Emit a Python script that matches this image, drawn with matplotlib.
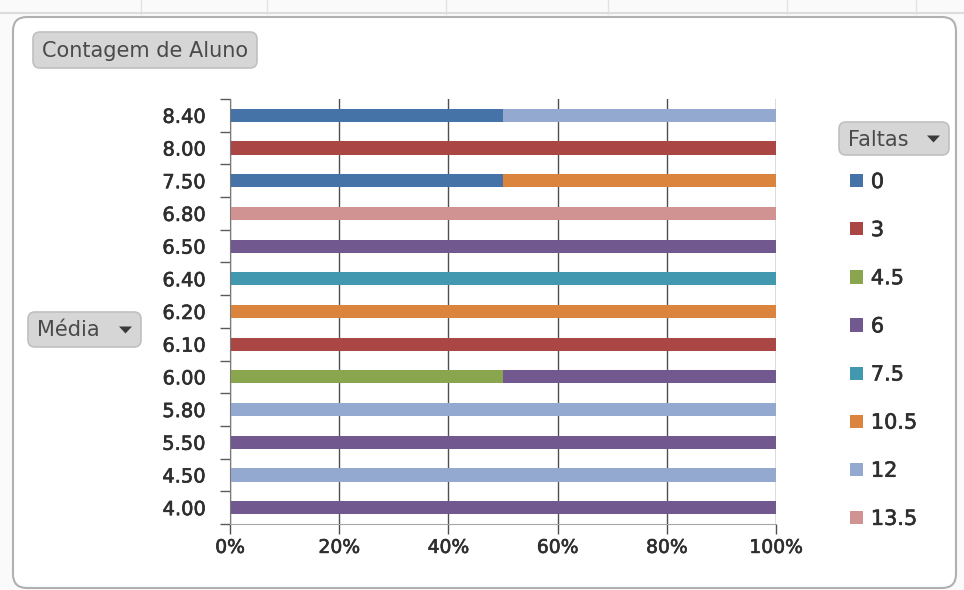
import numpy as np
import matplotlib.pyplot as plt
import matplotlib.patheffects as pe
from matplotlib.patches import FancyBboxPatch, Polygon, Patch

# Média (eixo Y), de baixo para cima
medias = ['4.00', '4.50', '5.50', '5.80', '6.00', '6.10', '6.20',
          '6.40', '6.50', '6.80', '7.50', '8.00', '8.40']

# Faltas (série) e cores de cada uma
faltas = ['0', '3', '4.5', '6', '7.5', '10.5', '12', '13.5']
cores = ['#4572A7', '#AA4643', '#89A54E', '#71588F',
         '#4198AF', '#DB843D', '#93A9CF', '#D19392']

# contagem de aluno por faltas, na ordem de "medias"
cont_0    = [0, 0, 0, 0, 0, 0, 0, 0, 0, 0, 1, 0, 1]
cont_3    = [0, 0, 0, 0, 0, 1, 0, 0, 0, 0, 0, 1, 0]
cont_4_5  = [0, 0, 0, 0, 1, 0, 0, 0, 0, 0, 0, 0, 0]
cont_6    = [1, 0, 1, 0, 1, 0, 0, 0, 1, 0, 0, 0, 0]
cont_7_5  = [0, 0, 0, 0, 0, 0, 0, 1, 0, 0, 0, 0, 0]
cont_10_5 = [0, 0, 0, 0, 0, 0, 1, 0, 0, 0, 1, 0, 0]
cont_12   = [0, 1, 0, 1, 0, 0, 0, 0, 0, 0, 0, 0, 1]
cont_13_5 = [0, 0, 0, 0, 0, 0, 0, 0, 0, 1, 0, 0, 0]

contagem = np.array([cont_0, cont_3, cont_4_5, cont_6,
                     cont_7_5, cont_10_5, cont_12, cont_13_5], dtype=float)
perc = contagem / contagem.sum(axis=0) * 100

W, H = 964, 590
fig = plt.figure(figsize=(W / 100, H / 100), dpi=100, facecolor='#fafafa')

# traço leve para engrossar o texto dos rótulos
grosso = [pe.withStroke(linewidth=0.45, foreground='#2e2e2e')]

# camada de fundo em pixels (painel, botões)
bg = fig.add_axes([0, 0, 1, 1], zorder=0)
bg.set_xlim(0, W)
bg.set_ylim(H, 0)
bg.axis('off')

for x in [141, 267, 446, 608, 787, 916]:
    bg.plot([x, x], [0, 14], color='#e2e2e2', lw=1)
bg.plot([0, W], [13, 13], color='#dcdcdc', lw=1.5)

bg.add_patch(FancyBboxPatch((13, 17), 943, 571,
                            boxstyle='round,pad=0,rounding_size=14',
                            facecolor='white', edgecolor='#b0b0b0', lw=1.5))


def botao(x0, y0, x1, y1, texto, seta=False):
    bg.add_patch(FancyBboxPatch((x0, y0), x1 - x0, y1 - y0,
                                boxstyle='round,pad=0,rounding_size=7',
                                facecolor='#d6d6d6', edgecolor='#c0c0c0', lw=1.2))
    yc = (y0 + y1) / 2
    bg.text(x0 + 9, yc + 1, texto, fontsize=15, color='#4a4a4a',
            ha='left', va='center')
    if seta:
        xs = x1 - 22
        bg.add_patch(Polygon([[xs, yc - 3], [xs + 13, yc - 3], [xs + 6.5, yc + 4]],
                             closed=True, facecolor='#3a3a3a', edgecolor='none'))


botao(33, 32, 257, 68, 'Contagem de Aluno')
botao(28, 312, 141, 347, 'Média', seta=True)
botao(839, 122, 949, 155, 'Faltas', seta=True)

# gráfico de barras 100% empilhadas
ax = fig.add_axes([230 / W, 1 - 524 / H, (776 - 230) / W, (524 - 99) / H], zorder=1)
ax.set_facecolor('none')
y = np.arange(len(medias))
esq = np.zeros(len(medias))
handles = []
for i, f in enumerate(faltas):
    ax.barh(y, perc[i], left=esq, height=0.4, color=cores[i], edgecolor='none')
    esq += perc[i]
    handles.append(Patch(facecolor=cores[i], edgecolor='none', label=f))

ax.set_xlim(0, 100)
ax.set_ylim(-0.5, len(medias) - 0.5)
ax.set_axisbelow(True)
ax.grid(axis='x', color='#4f4f4f', lw=1)

ax.set_xticks(np.arange(0, 101, 20))
ax.set_xticklabels([f'{v}%' for v in range(0, 101, 20)])
ax.tick_params(axis='x', length=7, width=1, color='#4f4f4f', pad=3,
               labelsize=13.5, labelcolor='#2e2e2e')

ax.set_yticks(y)
ax.set_yticklabels(medias)
ax.set_yticks(np.arange(-0.5, len(medias)), minor=True)
ax.tick_params(axis='y', which='major', length=0, pad=17.5,
               labelsize=14, labelcolor='#2e2e2e')
ax.tick_params(axis='y', which='minor', length=7, width=1, color='#5a5a5a')

for t in ax.get_xticklabels() + ax.get_yticklabels():
    t.set_path_effects(grosso)

for s in ['top', 'right']:
    ax.spines[s].set_visible(False)
ax.spines['left'].set_color('#7a7a7a')
ax.spines['bottom'].set_color('#a5a5a5')

leg = fig.legend(handles=handles, loc='upper left',
                 bbox_to_anchor=(850 / W, 1 - 172 / H), frameon=False,
                 fontsize=15, handlelength=0.6, handleheight=0.6,
                 handletextpad=0.4, labelspacing=1.35,
                 borderpad=0, borderaxespad=0)
for t in leg.get_texts():
    t.set_color('#2e2e2e')
    t.set_path_effects(grosso)

fig.savefig('out.png', dpi=100, facecolor=fig.get_facecolor())
